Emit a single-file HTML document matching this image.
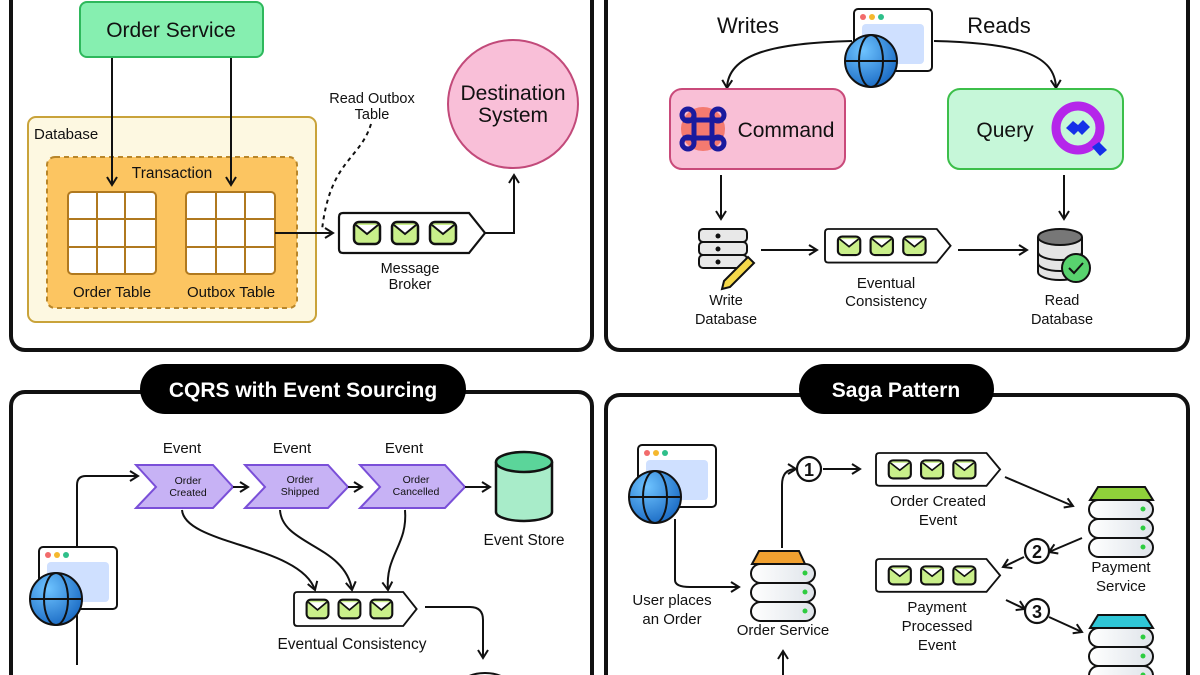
<!DOCTYPE html>
<html><head><meta charset="utf-8"><style>
html,body{margin:0;padding:0;background:#fff;width:1200px;height:675px;overflow:hidden;}
svg{display:block;font-family:"Liberation Sans",sans-serif;}
</style></head><body>
<svg width="1200" height="675" viewBox="0 0 1200 675" xmlns="http://www.w3.org/2000/svg">
<defs>
<marker id="ah" viewBox="0 0 12 12" refX="10" refY="6" markerWidth="12" markerHeight="12" markerUnits="userSpaceOnUse" orient="auto">
<path d="M2,1 L10,6 L2,11" fill="none" stroke="#111" stroke-width="2"/>
</marker>
<g id="env">
<rect x="0" y="0" width="26" height="22" rx="5" fill="#c9ef8a" stroke="#111" stroke-width="2.5"/>
<path d="M2,3 L13,12 L24,3" fill="#fff" stroke="#111" stroke-width="2"/>
</g>
<g id="queue">
<path d="M4,0 H130 L146,20 L130,40 H4 Q0,40 0,36 V4 Q0,0 4,0 Z" fill="#fff" stroke="#111" stroke-width="2.2"/>
<use href="#env" x="15" y="9"/><use href="#env" x="53" y="9"/><use href="#env" x="91" y="9"/>
</g>
<linearGradient id="pill" x1="0" x2="1"><stop offset="0" stop-color="#fff"/><stop offset="1" stop-color="#dfe4ea"/></linearGradient>
<g id="srv">
<rect x="1" y="13" width="64" height="19" rx="9.5" fill="url(#pill)" stroke="#111" stroke-width="2"/>
<rect x="1" y="32" width="64" height="19" rx="9.5" fill="url(#pill)" stroke="#111" stroke-width="2"/>
<rect x="1" y="51" width="64" height="19" rx="9.5" fill="url(#pill)" stroke="#111" stroke-width="2"/>
<circle cx="55" cy="22" r="2.5" fill="#2ecc40"/><circle cx="55" cy="41" r="2.5" fill="#2ecc40"/><circle cx="55" cy="60" r="2.5" fill="#2ecc40"/>
</g>
<radialGradient id="gl" cx="0.35" cy="0.3" r="0.8"><stop offset="0" stop-color="#6ec3ff"/><stop offset="1" stop-color="#1565c0"/></radialGradient>
<g id="brow">
<rect x="0" y="0" width="78" height="62" rx="4" fill="#fff" stroke="#111" stroke-width="2"/>
<circle cx="9" cy="8" r="3" fill="#f26b6b"/><circle cx="18" cy="8" r="3" fill="#f5b82e"/><circle cx="27" cy="8" r="3" fill="#2fbf8a"/>
<rect x="8" y="15" width="62" height="40" rx="4" fill="#cfe0ff"/>
<circle cx="17" cy="52" r="26" fill="url(#gl)" stroke="#111" stroke-width="2"/>
<ellipse cx="17" cy="52" rx="12" ry="26" fill="none" stroke="#111" stroke-width="2"/>
<line x1="-9" y1="52" x2="43" y2="52" stroke="#111" stroke-width="2"/>
</g>
</defs>

<!-- panels -->
<rect x="11" y="-30" width="581" height="380" rx="14" fill="none" stroke="#111" stroke-width="4"/>
<rect x="606" y="-30" width="582" height="380" rx="14" fill="none" stroke="#111" stroke-width="4"/>
<rect x="11" y="392" width="581" height="320" rx="14" fill="none" stroke="#111" stroke-width="4"/>
<rect x="606" y="395" width="582" height="320" rx="14" fill="none" stroke="#111" stroke-width="4"/>

<!-- TOP LEFT: outbox -->
<rect x="80" y="2" width="183" height="55" rx="7" fill="#86efb0" stroke="#2eb85c" stroke-width="2"/>
<text x="171" y="37" font-size="21" text-anchor="middle" fill="#111">Order Service</text>
<rect x="28" y="117" width="288" height="205" rx="8" fill="#fdf8e1" stroke="#c9a33a" stroke-width="2"/>
<text x="34" y="139" font-size="15" fill="#111">Database</text>
<rect x="47" y="157" width="250" height="151" rx="8" fill="#fcc561" stroke="#b8862a" stroke-width="2" stroke-dasharray="5,4"/>
<text x="172" y="178" font-size="15.5" text-anchor="middle" fill="#111">Transaction</text>
<g stroke="#b0791f" stroke-width="2" fill="#fff">
<rect x="68" y="192" width="88" height="82" rx="4"/>
<path d="M97,192V274M125,192V274M68,219H156M68,247H156" fill="none"/>
<rect x="186" y="192" width="89" height="82" rx="4"/>
<path d="M216,192V274M245,192V274M186,219H275M186,247H275" fill="none"/>
</g>
<text x="112" y="297" font-size="15" text-anchor="middle" fill="#111">Order Table</text>
<text x="231" y="297" font-size="15" text-anchor="middle" fill="#111">Outbox Table</text>
<g fill="none" stroke="#111" stroke-width="2" marker-end="url(#ah)">
<path d="M112,58 V185"/><path d="M231,58 V185"/>
<path d="M275,233 H333"/>
<path d="M485,233 H514 V175"/>
</g>
<path d="M371,124 C360,160 330,160 322,230" fill="none" stroke="#111" stroke-width="2" stroke-dasharray="4,4"/>
<text x="372" y="103" font-size="14.5" text-anchor="middle" fill="#111">Read Outbox</text>
<text x="372" y="119" font-size="14.5" text-anchor="middle" fill="#111">Table</text>
<use href="#queue" x="339" y="213"/>
<text x="410" y="273" font-size="14.5" text-anchor="middle" fill="#111">Message</text>
<text x="410" y="289" font-size="14.5" text-anchor="middle" fill="#111">Broker</text>
<ellipse cx="513" cy="104" rx="65" ry="64" fill="#f9bfd8" stroke="#c24a7a" stroke-width="2"/>
<text x="513" y="100" font-size="21" text-anchor="middle" fill="#111">Destination</text>
<text x="513" y="122" font-size="21" text-anchor="middle" fill="#111">System</text>

<!-- TOP RIGHT: CQRS -->
<text x="748" y="33" font-size="22" text-anchor="middle" fill="#111">Writes</text>
<text x="999" y="33" font-size="22" text-anchor="middle" fill="#111">Reads</text>
<g fill="none" stroke="#111" stroke-width="2" marker-end="url(#ah)">
<path d="M852,41 C770,43 728,55 727,88"/>
<path d="M934,41 C1020,43 1055,55 1056,88"/>
<path d="M721,175 V219"/><path d="M1064,175 V219"/>
<path d="M761,250 H817"/><path d="M958,250 H1027"/>
</g>
<use href="#brow" x="854" y="9"/>
<rect x="670" y="89" width="175" height="80" rx="12" fill="#f9bfd6" stroke="#c94a7a" stroke-width="2"/>
<circle cx="703" cy="129" r="22" fill="#f47a70"/>
<g fill="none" stroke="#1a1a9e" stroke-width="5"><path d="M694,115V143M712,115V143M683,120H723M683,138H723"/><circle cx="688" cy="115" r="6"/><circle cx="718" cy="115" r="6"/><circle cx="688" cy="143" r="6"/><circle cx="718" cy="143" r="6"/></g>
<text x="786" y="137" font-size="21" text-anchor="middle" fill="#111">Command</text>
<rect x="948" y="89" width="175" height="80" rx="12" fill="#c6f7d9" stroke="#3cbf4a" stroke-width="2"/>
<text x="1005" y="137" font-size="21" text-anchor="middle" fill="#111">Query</text>
<circle cx="1078" cy="128" r="22" fill="none" stroke="#b526ea" stroke-width="9"/>
<path d="M1066,128 L1073,121 L1078,125 L1083,120 L1090,127 L1082,135 L1078,131 L1074,135 Z" fill="#1530e8"/>
<path d="M1092,147 L1099,142 L1107,150 L1100,156 Z" fill="#1530e8"/>
<!-- write db -->
<g stroke="#111" stroke-width="2" fill="#e8e8e8">
<rect x="699" y="229" width="48" height="13" rx="4"/><rect x="699" y="242" width="48" height="13" rx="4"/><rect x="699" y="255" width="48" height="13" rx="4"/>
</g>
<circle cx="718" cy="236" r="2.5" fill="#111"/><circle cx="718" cy="249" r="2.5" fill="#111"/><circle cx="718" cy="262" r="2.5" fill="#111"/>
<path d="M724,281 L748,257 L754,263 L730,287 L722,289 Z" fill="#f5d84a" stroke="#111" stroke-width="2"/>
<text x="726" y="305" font-size="14.5" text-anchor="middle" fill="#111">Write</text>
<text x="726" y="324" font-size="14.5" text-anchor="middle" fill="#111">Database</text>
<use href="#queue" transform="translate(825,229) scale(0.86,0.84)"/>
<text x="886" y="288" font-size="15" text-anchor="middle" fill="#111">Eventual</text>
<text x="886" y="306" font-size="15" text-anchor="middle" fill="#111">Consistency</text>
<path d="M1038,237 V272 A22,8 0 0 0 1082,272 V237" fill="#e4e4e4" stroke="#111" stroke-width="2"/>
<ellipse cx="1060" cy="237" rx="22" ry="8" fill="#777" stroke="#111" stroke-width="2"/>
<path d="M1038,252 A22,8 0 0 0 1082,252 M1038,263 A22,8 0 0 0 1082,263" fill="none" stroke="#111" stroke-width="2"/>
<circle cx="1076" cy="268" r="14" fill="#58d36e" stroke="#111" stroke-width="2"/>
<path d="M1069,268 L1074,273 L1083,263" fill="none" stroke="#111" stroke-width="2"/>
<text x="1062" y="305" font-size="14.5" text-anchor="middle" fill="#111">Read</text>
<text x="1062" y="324" font-size="14.5" text-anchor="middle" fill="#111">Database</text>

<!-- BOTTOM LEFT: CQRS ES -->
<rect x="140" y="364" width="326" height="50" rx="25" fill="#000"/>
<text x="303" y="397" font-size="21" font-weight="bold" text-anchor="middle" fill="#fff">CQRS with Event Sourcing</text>
<g font-size="15" fill="#111" text-anchor="middle">
<text x="182" y="453">Event</text><text x="292" y="453">Event</text><text x="404" y="453">Event</text>
</g>
<g fill="#c7b2f5" stroke="#7a4fd8" stroke-width="2">
<path d="M136,465 H213 L233,487 L213,508 H136 L156,487 Z"/>
<path d="M245,465 H328 L348,487 L328,508 H245 L265,487 Z"/>
<path d="M360,465 H445 L465,487 L445,508 H360 L380,487 Z"/>
</g>
<g font-size="10.5" fill="#111" text-anchor="middle">
<text x="188" y="484">Order</text><text x="188" y="496">Created</text>
<text x="300" y="483">Order</text><text x="300" y="495">Shipped</text>
<text x="416" y="483">Order</text><text x="416" y="495">Cancelled</text>
</g>
<g fill="none" stroke="#111" stroke-width="2" marker-end="url(#ah)">
<path d="M77,665 V485 Q77,476 86,476 H138"/>
<path d="M233,487 H248"/><path d="M348,487 H362"/><path d="M465,487 H490"/>
<path d="M182,510 C185,545 300,545 315,590"/>
<path d="M280,510 C282,545 345,545 352,590"/>
<path d="M405,510 C408,545 385,555 388,590"/>
<path d="M425,607 H470 Q483,607 483,620 V658"/>
</g>
<use href="#brow" x="39" y="547"/>
<path d="M496,462 V512 A28,9 0 0 0 552,512 V462" fill="#a8ecc9" stroke="#111" stroke-width="2.5"/>
<ellipse cx="524" cy="462" rx="28" ry="10" fill="#5bd59a" stroke="#111" stroke-width="2.5"/>
<text x="524" y="545" font-size="15.5" text-anchor="middle" fill="#111">Event Store</text>
<use href="#queue" transform="translate(294,592) scale(0.84,0.85)"/>
<text x="352" y="649" font-size="15.5" text-anchor="middle" fill="#111">Eventual Consistency</text>
<ellipse cx="485" cy="685" rx="24" ry="12" fill="#fff" stroke="#111" stroke-width="2"/>

<!-- BOTTOM RIGHT: Saga -->
<rect x="799" y="364" width="195" height="50" rx="25" fill="#000"/>
<text x="896" y="397" font-size="21" font-weight="bold" text-anchor="middle" fill="#fff">Saga Pattern</text>
<use href="#brow" x="638" y="445"/>
<g fill="none" stroke="#111" stroke-width="2" marker-end="url(#ah)">
<path d="M675,519 V580 Q675,587 690,587 H739"/>
<path d="M782,548 V485 Q782,469 796,469"/>
<path d="M823,469 H860"/>
<path d="M1005,477 L1073,506"/>
<path d="M1082,538 L1049,552"/>
<path d="M1024,557 L1003,567"/>
<path d="M1006,600 L1025,609"/>
<path d="M1049,617 L1082,632"/>
<path d="M783,675 V651"/>
</g>
<g fill="#fff" stroke="#111" stroke-width="2.2">
<circle cx="809" cy="469" r="12"/><circle cx="1037" cy="551" r="12"/><circle cx="1037" cy="611" r="12"/>
</g>
<g font-size="18" font-weight="bold" text-anchor="middle" fill="#111">
<text x="809" y="476">1</text><text x="1037" y="558">2</text><text x="1037" y="618">3</text>
</g>
<use href="#queue" transform="translate(876,453) scale(0.85,0.82)"/>
<use href="#queue" transform="translate(876,559) scale(0.85,0.82)"/>
<g font-size="15" fill="#111" text-anchor="middle">
<text x="938" y="506">Order Created</text><text x="938" y="525">Event</text>
<text x="937" y="612">Payment</text><text x="937" y="631">Processed</text><text x="937" y="650">Event</text>
<text x="672" y="605">User places</text><text x="672" y="624">an Order</text>
<text x="783" y="635">Order Service</text>
<text x="1121" y="572">Payment</text><text x="1121" y="591">Service</text>
</g>
<path d="M759,551 H799 L805,564 H752 Z" fill="#f0a030" stroke="#111" stroke-width="2"/>
<use href="#srv" x="750" y="551"/>
<path d="M1098,487 H1145 L1153,500 H1090 Z" fill="#8fd13a" stroke="#111" stroke-width="2"/>
<use href="#srv" x="1088" y="487"/>
<path d="M1098,615 H1145 L1153,628 H1090 Z" fill="#2fc6d6" stroke="#111" stroke-width="2"/>
<use href="#srv" x="1088" y="615"/>
</svg>
</body></html>
